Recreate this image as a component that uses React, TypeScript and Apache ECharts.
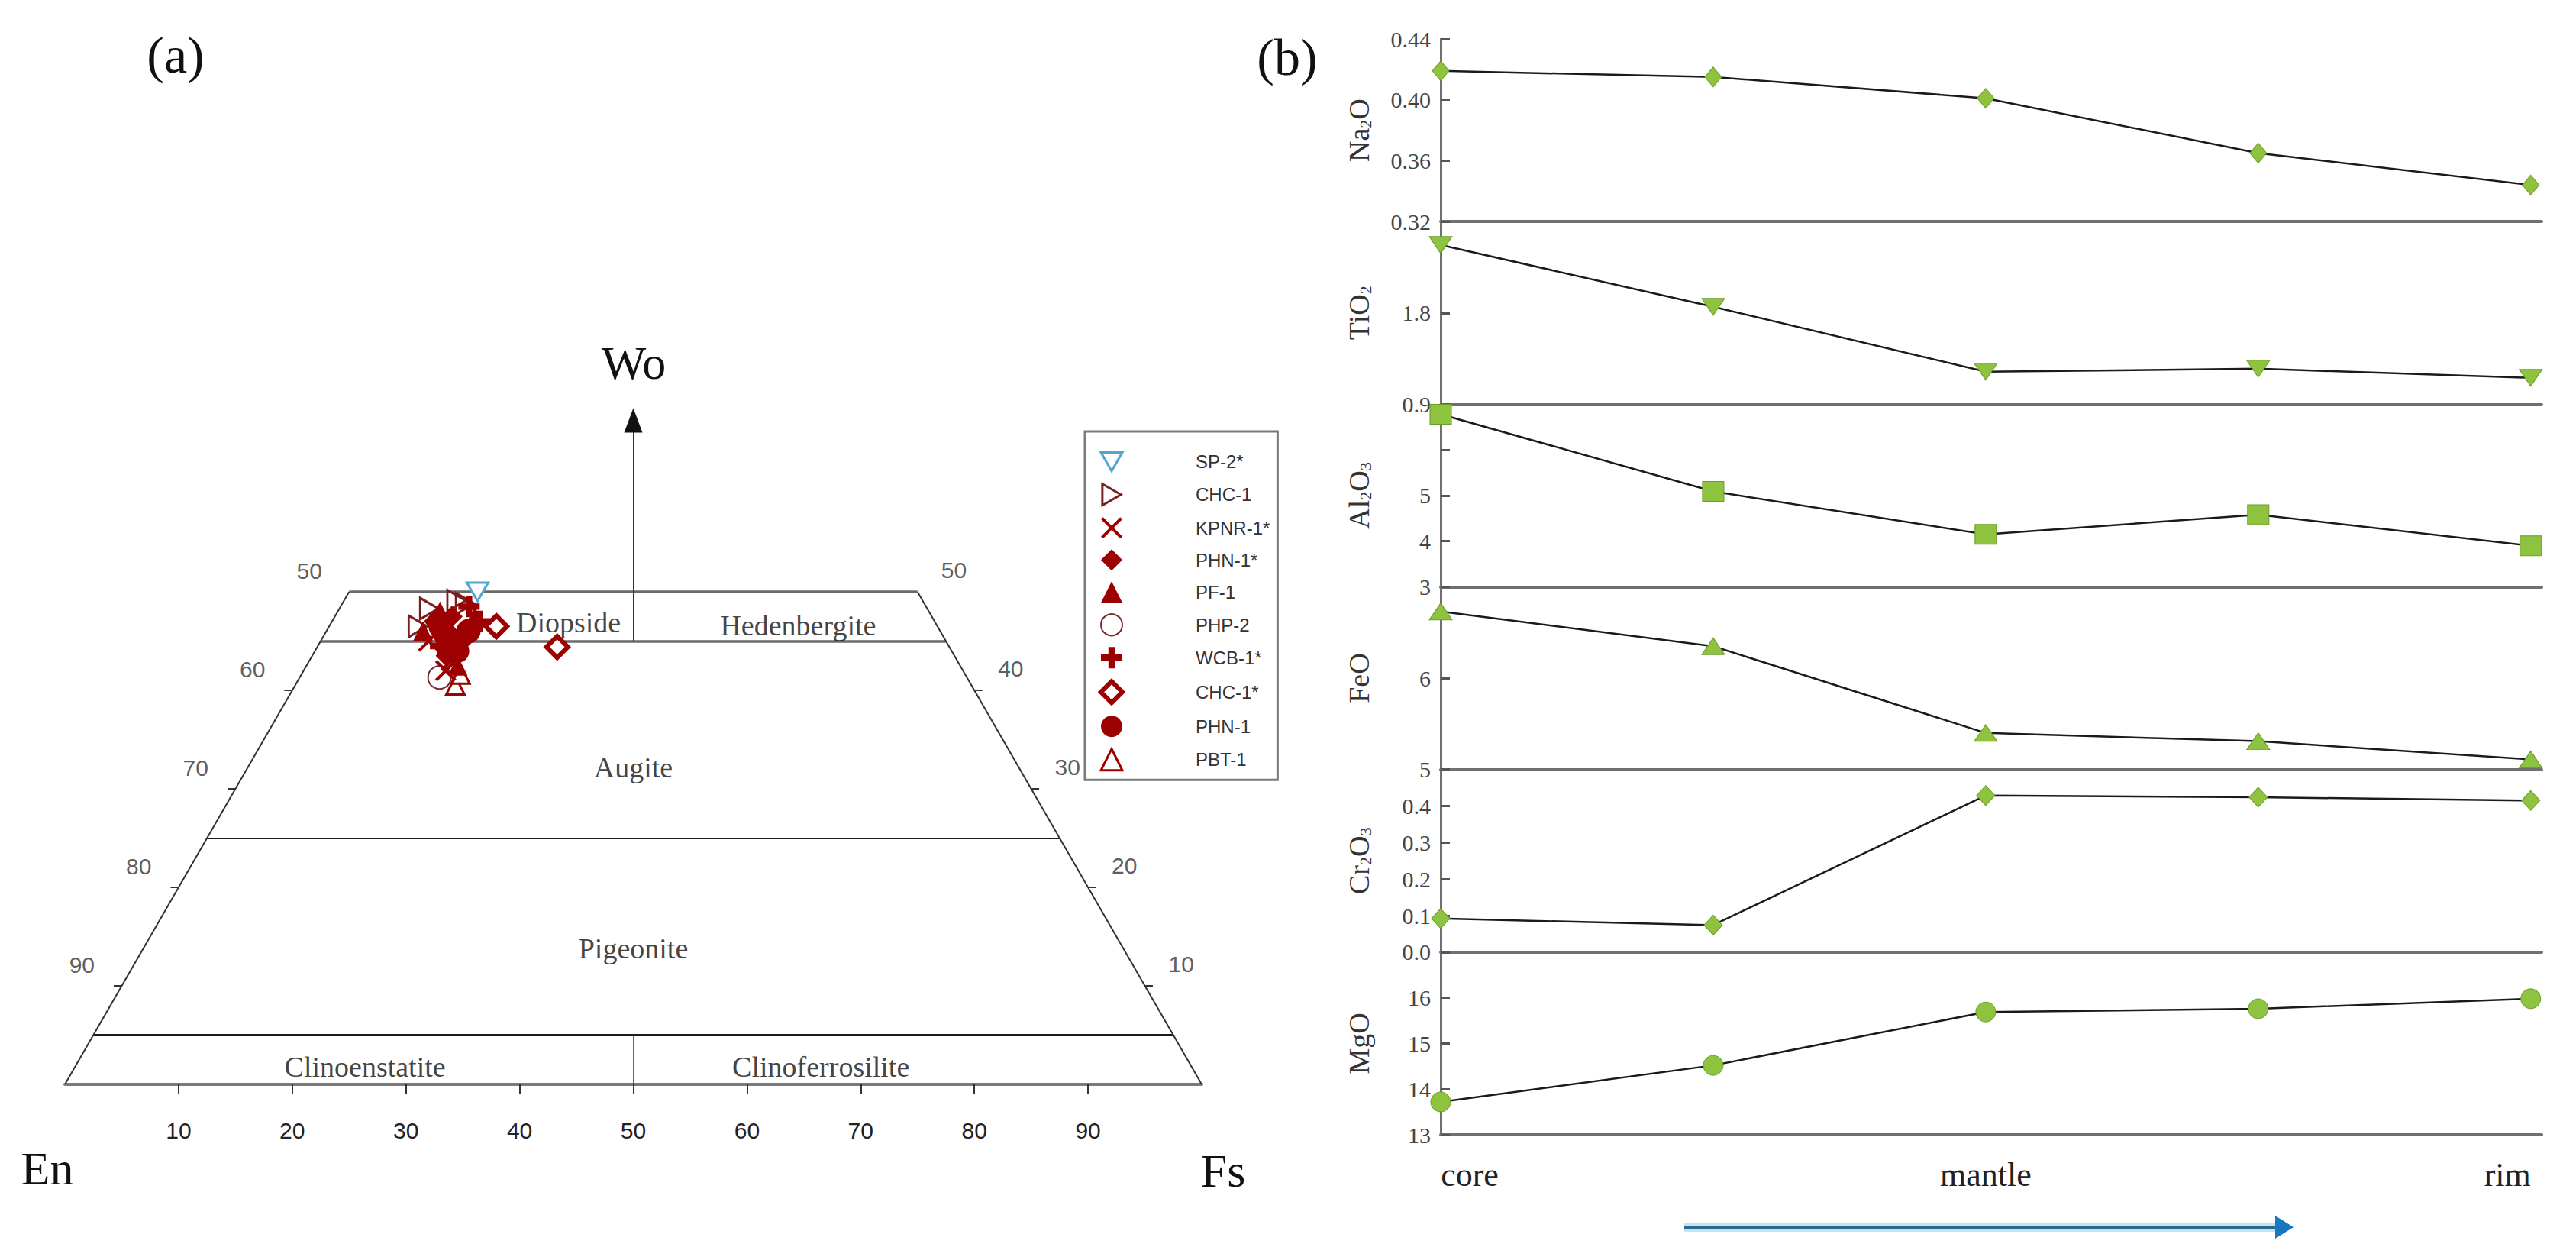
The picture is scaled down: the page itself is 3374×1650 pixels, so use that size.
import React, { useEffect, useRef } from 'react';
import * as echarts from 'echarts';

// ---------- Panel (a): pyroxene compositions [Wo, En, Fs] ----------
const SP2_STAR = [[50.0, 38.7, 11.3]];
const CHC1 = [[46.5, 45.7, 7.8], [48.3, 43.8, 7.9], [49.1, 41.0, 9.9], [48.8, 40.4, 10.8]];
const KPNR1_STAR = [[45.0, 45.5, 9.5], [43.0, 44.5, 12.5], [42.0, 45.5, 12.5]];
const PHN1_STAR = [[47.0, 44.0, 9.0], [47.5, 42.2, 10.3], [45.0, 42.5, 12.5], [43.5, 44.7, 11.8]];
const PF1 = [[46.0, 45.5, 8.5], [48.0, 43.0, 9.0], [42.5, 44.2, 13.3], [47.5, 40.2, 12.3]];
const PHP2 = [[41.3, 46.4, 12.3]];
const WCB1_STAR = [[48.5, 40.2, 11.3], [44.5, 44.7, 10.8], [47.0, 40.0, 13.0]];
const CHC1_STAR = [[46.5, 38.8, 14.7], [44.4, 34.5, 21.1]];
const PHN1 = [[45.5, 43.7, 10.8], [44.0, 43.5, 12.5], [46.5, 43.7, 9.8], [46.0, 41.5, 12.5]];
const PBT1 = [[40.5, 45.4, 14.1], [41.6, 44.4, 14.0]];

const LEGEND_NAMES = ['SP-2*', 'CHC-1', 'KPNR-1*', 'PHN-1*', 'PF-1', 'PHP-2', 'WCB-1*', 'CHC-1*', 'PHN-1', 'PBT-1'];

// Field boundaries (Wo %) and side tick values
const FIELD_BOUNDARY_WO = [50, 45, 25, 5];
const SIDE_TICK_WO = [10, 20, 30, 40];
const SIDE_LABEL_WO = [50, 40, 30, 20, 10];
const LEFT_SIDE_LABELS = ['50', '60', '70', '80', '90'];
const RIGHT_SIDE_LABELS = ['50', '40', '30', '20', '10'];
const BOTTOM_TICKS = [10, 20, 30, 40, 50, 60, 70, 80, 90];
const FIELD_NAMES = ['Diopside', 'Hedenbergite', 'Augite', 'Pigeonite', 'Clinoenstatite', 'Clinoferrosilite'];

// ---------- Panel (b): zoning profile ----------
const ZONES = ['core', '', 'mantle', '', 'rim'];
const NA2O = [0.419, 0.415, 0.401, 0.365, 0.344];
const TIO2 = [2.47, 1.86, 1.22, 1.25, 1.16];
const AL2O3 = [6.78, 5.09, 4.15, 4.58, 3.9];
const FEO = [6.73, 6.35, 5.4, 5.31, 5.11];
const CR2O3 = [0.092, 0.074, 0.429, 0.424, 0.415];
const MGO = [13.72, 14.52, 15.69, 15.76, 15.98];

const SERIF = '"Liberation Serif", "Times New Roman", serif';
const SANS = '"Liberation Sans", Arial, sans-serif';
const NARROW = '"Liberation Sans Narrow", "Liberation Sans", Arial, sans-serif';
const RED = '#9c0000';

const project = (d: number[]) => [d[2] + d[0] / 2, d[0]];

const X_PATH = 'path://M0,1L1,0L5,4L9,0L10,1L6,5L10,9L9,10L5,6L1,10L0,9L4,5Z';
const PLUS_PATH = 'path://M3.5,0H6.5V3.5H10V6.5H6.5V10H3.5V6.5H0V3.5H3.5Z';
const TRI_DOWN = 'path://M0,0L10,0L5,8.66Z';
const TRI_RIGHT = 'path://M0,0L8.66,5L0,10Z';

export default function App() {
  const ref = useRef<HTMLDivElement>(null);

  useEffect(() => {
    document.body.style.margin = '0';
    const chart = echarts.init(ref.current!, null, { renderer: 'svg' });

    // Panel (a) geometry segments
    const segs: any[] = [];
    FIELD_BOUNDARY_WO.forEach((wo) => {
      const top = wo >= 45;
      segs.push({
        coords: [[wo / 2, wo], [100 - wo / 2, wo]],
        lineStyle: { color: top ? '#6a6a6a' : '#1a1a1a', width: top ? 3.5 : wo === 5 ? 3 : 2, opacity: 1 },
      });
    });
    segs.push({ coords: [[0, 0], [25, 50]], lineStyle: { color: '#333', width: 2, opacity: 1 } });
    segs.push({ coords: [[100, 0], [75, 50]], lineStyle: { color: '#333', width: 2, opacity: 1 } });
    segs.push({ coords: [[50, 0], [50, 5]], lineStyle: { color: '#333', width: 1.5, opacity: 1 } });
    segs.push({ coords: [[50, 45], [50, 67]], lineStyle: { color: '#333', width: 2, opacity: 1 } });
    SIDE_TICK_WO.forEach((w) => {
      segs.push({ coords: [[w / 2 - 0.7, w], [w / 2, w]], lineStyle: { color: '#333', width: 2, opacity: 1 } });
      segs.push({ coords: [[100 - w / 2, w], [100 - w / 2 + 0.7, w]], lineStyle: { color: '#333', width: 2, opacity: 1 } });
    });

    const sideLabels: any[] = [];
    SIDE_LABEL_WO.forEach((w, i) => {
      sideLabels.push({ name: LEFT_SIDE_LABELS[i], value: [w / 2 - 3.5, w + 2.1] });
      sideLabels.push({ name: RIGHT_SIDE_LABELS[i], value: [100 - w / 2 + 3.2, w + 2.2] });
    });
    const fieldPos = [[44.3, 46.9], [64.5, 46.6], [50, 32.2], [50, 13.8], [26.4, 1.8], [66.5, 1.8]];
    const fieldLabels = FIELD_NAMES.map((n, i) => ({ name: n, value: fieldPos[i] }));

    const sampleStyles: Record<string, any> = {
      'SP-2*': { symbol: TRI_DOWN, size: [28, 24], style: { color: '#ffffff', borderColor: '#4fa7cf', borderWidth: 3 } },
      'CHC-1': { symbol: TRI_RIGHT, size: [24, 28], style: { color: 'rgba(255,255,255,0)', borderColor: '#7a1f1f', borderWidth: 3 } },
      'KPNR-1*': { symbol: X_PATH, size: 28, style: { color: RED } },
      'PHN-1*': { symbol: 'diamond', size: 28, style: { color: RED } },
      'PF-1': { symbol: 'triangle', size: 26, style: { color: RED } },
      'PHP-2': { symbol: 'circle', size: 30, style: { color: 'rgba(255,255,255,0)', borderColor: '#7a2a2a', borderWidth: 2 } },
      'WCB-1*': { symbol: PLUS_PATH, size: 28, style: { color: RED } },
      'CHC-1*': { symbol: 'diamond', size: 28, style: { color: '#ffffff', borderColor: RED, borderWidth: 6 } },
      'PHN-1': { symbol: 'circle', size: 32, style: { color: RED } },
      'PBT-1': { symbol: 'triangle', size: 24, style: { color: '#ffffff', borderColor: RED, borderWidth: 3 } },
    };
    const sample = (name: string, data: number[][]) => {
      const s = sampleStyles[name];
      return {
        type: 'scatter', name, xAxisIndex: 0, yAxisIndex: 0, symbol: s.symbol, symbolSize: s.size,
        itemStyle: { opacity: 1, ...s.style }, data: data.map(project), z: 5,
      };
    };

    // Panel (b) definitions
    const gTop = 51, gH = 239.17, gLeft = 1887, gW = 1442;
    const panels = [
      { name: 'Na{sub|2}O', v: NA2O, min: 0.32, max: 0.44, interval: 0.04, symbol: 'diamond', size: [22, 26],
        fmt: (x: number) => x.toFixed(2) },
      { name: 'TiO{sub|2}', v: TIO2, min: 0.9, max: 2.7, interval: 0.9, symbol: TRI_DOWN, size: [30, 22],
        fmt: (x: number) => (x > 2.6 ? '' : x.toFixed(1)) },
      { name: 'Al{sub|2}O{sub|3}', v: AL2O3, min: 3, max: 7, interval: 1, symbol: 'rect', size: [28, 26],
        fmt: (x: number) => (x > 5.5 ? '' : String(Math.round(x))) },
      { name: 'FeO', v: FEO, min: 5, max: 7, interval: 1, symbol: 'triangle', size: [30, 22],
        fmt: (x: number) => (x > 6.5 ? '' : String(Math.round(x))) },
      { name: 'Cr{sub|2}O{sub|3}', v: CR2O3, min: 0, max: 0.5, interval: 0.1, symbol: 'diamond', size: [24, 26],
        fmt: (x: number) => (x > 0.45 ? '' : x.toFixed(1)) },
      { name: 'MgO', v: MGO, min: 13, max: 17, interval: 1, symbol: 'circle', size: 26,
        fmt: (x: number) => (x > 16.5 ? '' : String(Math.round(x))) },
    ];

    const grids: any[] = [{ left: 85, top: 517, width: 1489, height: 903 }];
    const xAxes: any[] = [{
      gridIndex: 0, type: 'value', min: 0, max: 100, interval: 10,
      axisLine: { show: true, lineStyle: { color: '#7a7a7a', width: 4 } },
      axisTick: { show: true, inside: false, length: 13, customValues: BOTTOM_TICKS, lineStyle: { color: '#333', width: 2 } },
      axisLabel: { show: true, customValues: BOTTOM_TICKS, margin: 45, fontSize: 30, fontFamily: NARROW, color: '#222',
        formatter: (x: number) => (x === 0 || x === 100 ? '' : String(x)) },
      splitLine: { show: false },
    }];
    const yAxes: any[] = [{ gridIndex: 0, type: 'value', min: 0, max: 70, show: false }];
    const bSeries: any[] = [];

    panels.forEach((p, k) => {
      const gi = k + 1;
      const last = k === panels.length - 1;
      grids.push({ left: gLeft, width: gW, top: gTop + k * gH, height: gH });
      xAxes.push({
        gridIndex: gi, type: 'value', min: 0, max: 4.04, interval: 1,
        axisLine: { show: true, onZero: false, lineStyle: { color: '#707070', width: 4 } },
        axisTick: { show: false }, splitLine: { show: false },
        axisLabel: last ? {
          show: true, margin: 30, fontSize: 44, fontFamily: SERIF, color: '#222',
          formatter: (x: number) => {
            const i = Math.round(x);
            if (Math.abs(x - i) > 1e-6 || !ZONES[i]) return '';
            if (i === 0) return '{l|' + ZONES[i] + '}';
            if (i === ZONES.length - 1) return '{r|' + ZONES[i] + '}';
            return '{c|' + ZONES[i] + '}';
          },
          rich: {
            l: { fontSize: 44, fontFamily: SERIF, color: '#222', padding: [0, 0, 0, 76] },
            c: { fontSize: 44, fontFamily: SERIF, color: '#222' },
            r: { fontSize: 44, fontFamily: SERIF, color: '#222', padding: [0, 61, 0, 0] },
          },
        } : { show: false },
      });
      yAxes.push({
        gridIndex: gi, type: 'value', min: p.min, max: p.max, interval: p.interval,
        axisLine: { show: true, onZero: false, lineStyle: { color: '#707070', width: 3 } },
        axisTick: { show: true, inside: true, length: 12, lineStyle: { color: '#555', width: 3 } },
        axisLabel: { show: true, margin: 13, fontSize: 30, fontFamily: SERIF, color: '#444', formatter: p.fmt },
        splitLine: { show: false },
        name: p.name, nameLocation: 'middle', nameGap: 88, nameRotate: 90,
        nameTextStyle: {
          fontSize: 38, fontFamily: SERIF, color: '#333',
          rich: { sub: { fontSize: 22, fontFamily: SERIF, color: '#333', verticalAlign: 'bottom' } },
        },
      });
      bSeries.push({
        type: 'line', xAxisIndex: gi, yAxisIndex: gi, clip: false,
        data: p.v.map((val, i) => [i, val]),
        symbol: p.symbol, symbolSize: p.size, showAllSymbol: true,
        lineStyle: { color: '#1a1a1a', width: 2.5 },
        itemStyle: { color: '#8dc33f', borderColor: '#6c9c2a', borderWidth: 1 },
        z: 3,
      });
    });

    const option: any = {
      animation: false,
      backgroundColor: '#ffffff',
      grid: grids,
      xAxis: xAxes,
      yAxis: yAxes,
      legend: {
        data: LEGEND_NAMES.map((n) => ({ name: n, icon: sampleStyles[n].symbol, itemStyle: { opacity: 1, ...sampleStyles[n].style } })),
        orient: 'vertical', left: 1421, top: 565,
        padding: [26, 10, 11, 18], itemWidth: 28, itemHeight: 28, itemGap: 14,
        borderColor: '#7a7a7a', borderWidth: 3, selectedMode: false,
        textStyle: { fontSize: 24, fontFamily: SANS, color: '#333', padding: [0, 0, 0, 91] },
      },
      series: [
        {
          type: 'lines', coordinateSystem: 'cartesian2d', xAxisIndex: 0, yAxisIndex: 0, silent: true, z: 1,
          lineStyle: { opacity: 1 }, data: segs,
        },
        {
          type: 'scatter', xAxisIndex: 0, yAxisIndex: 0, silent: true, z: 2, symbol: 'triangle',
          symbolSize: [24, 32], itemStyle: { color: '#111', opacity: 1 }, data: [[50, 67.4]],
        },
        {
          type: 'scatter', xAxisIndex: 0, yAxisIndex: 0, silent: true, symbolSize: 0, clip: false,
          data: sideLabels,
          label: { show: true, position: 'inside', formatter: '{b}', fontSize: 30, fontFamily: SANS, color: '#333' },
        },
        {
          type: 'scatter', xAxisIndex: 0, yAxisIndex: 0, silent: true, symbolSize: 0, clip: false,
          data: fieldLabels,
          label: { show: true, position: 'inside', formatter: '{b}', fontSize: 38, fontFamily: SERIF, color: '#111' },
        },
        sample('SP-2*', SP2_STAR),
        sample('CHC-1', CHC1),
        sample('PBT-1', PBT1),
        sample('PHP-2', PHP2),
        sample('KPNR-1*', KPNR1_STAR),
        sample('PF-1', PF1),
        sample('PHN-1*', PHN1_STAR),
        sample('WCB-1*', WCB1_STAR),
        sample('PHN-1', PHN1),
        sample('CHC-1*', CHC1_STAR),
        ...bSeries,
      ],
      graphic: [
        { type: 'text', x: 230, y: 72, style: { text: '(a)', fontSize: 68, fontFamily: SERIF, fill: '#111', align: 'center', verticalAlign: 'middle', textAlign: 'center', textVerticalAlign: 'middle' } },
        { type: 'text', x: 1686, y: 75, style: { text: '(b)', fontSize: 68, fontFamily: SERIF, fill: '#111', align: 'center', verticalAlign: 'middle', textAlign: 'center', textVerticalAlign: 'middle' } },
        { type: 'text', x: 830, y: 475, style: { text: 'Wo', fontSize: 62, fontFamily: SERIF, fill: '#111', align: 'center', verticalAlign: 'middle', textAlign: 'center', textVerticalAlign: 'middle' } },
        { type: 'text', x: 62, y: 1530, style: { text: 'En', fontSize: 62, fontFamily: SERIF, fill: '#111', align: 'center', verticalAlign: 'middle', textAlign: 'center', textVerticalAlign: 'middle' } },
        { type: 'text', x: 1602, y: 1533, style: { text: 'Fs', fontSize: 62, fontFamily: SERIF, fill: '#111', align: 'center', verticalAlign: 'middle', textAlign: 'center', textVerticalAlign: 'middle' } },
        { type: 'line', shape: { x1: 2206, y1: 1607, x2: 2985, y2: 1607 }, style: { stroke: 'rgba(140,205,232,0.55)', lineWidth: 12 } },
        { type: 'line', shape: { x1: 2206, y1: 1607, x2: 2985, y2: 1607 }, style: { stroke: '#2a6a8a', lineWidth: 4 } },
        { type: 'polygon', shape: { points: [[2980, 1592], [3004, 1607], [2980, 1622]] }, style: { fill: '#1877c0' } },
      ],
    };

    chart.setOption(option);
    return () => chart.dispose();
  }, []);

  return <div ref={ref} style={{ position: 'absolute', left: 0, top: 0, width: 3374, height: 1650 }} />;
}
